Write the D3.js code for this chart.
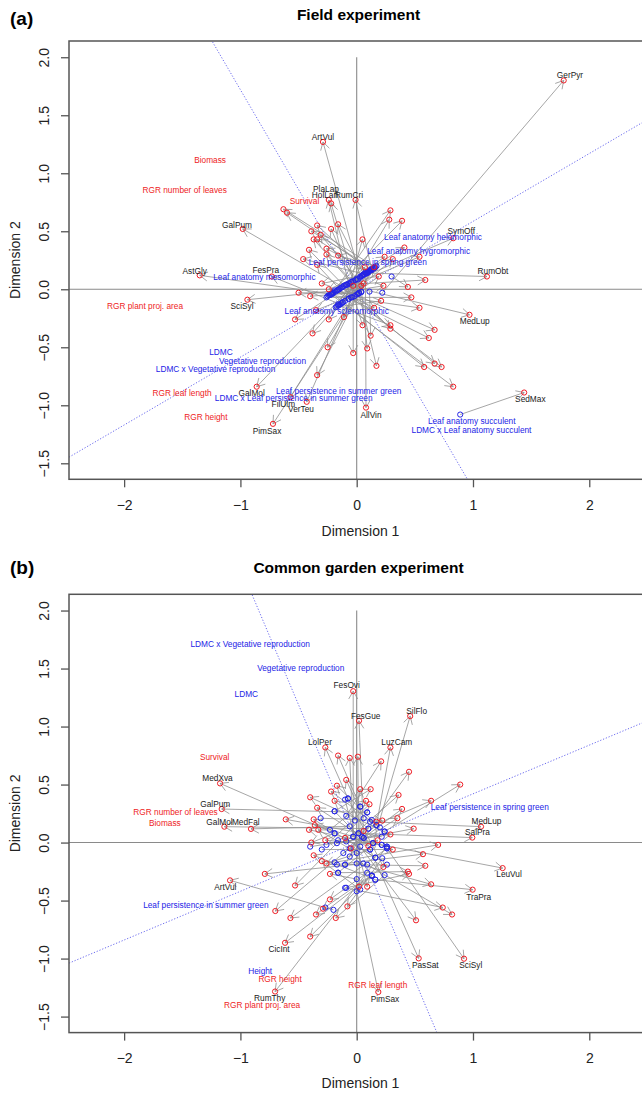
<!DOCTYPE html>
<html>
<head>
<meta charset="utf-8">
<script src="https://cdn.jsdelivr.net/npm/d3@7"></script>
<style>
  body { margin: 0; background: #fff; }
  svg { display: block; font-family: "Liberation Sans", Arial, Helvetica, sans-serif; }
</style>
</head>
<body>
<svg id="chart" width="642" height="1093"></svg>
<script>
// axis settings shared by both panels
const xDomain = [-2.474, 2.474];
const yDomain = [-1.638, 2.14];
const xTicks = [-2, -1, 0, 1, 2];
const yTicks = [-1.5, -1, -0.5, 0, 0.5, 1, 1.5, 2];

// (a) field experiment: [species x, species y, trait-space x, trait-space y]
const fieldPairs = [
  [1.78, 1.80, 0.22, -0.03], [-0.29, 1.27, 0.03, 0.11], [-0.24, 0.77, -0.07, 0.05],
  [-0.22, 0.74, 0.01, -0.04], [-0.01, 0.77, 0.13, 0.17], [-0.98, 0.52, -0.12, 0.02],
  [-1.35, 0.12, -0.22, -0.04], [-0.73, 0.11, -0.14, -0.13], [-0.94, -0.09, -0.17, -0.01],
  [0.83, 0.44, -0.045, 0.065], [1.12, 0.11, 0.08, 0.14], [0.97, -0.22, -0.095, 0.035],
  [1.44, -0.89, 0.89, -1.08], [0.08, -1.02, 0.075, 0.145], [-0.86, -0.84, 0.055, 0.125],
  [-0.57, -0.93, 0.105, 0.155], [-0.43, -0.97, -0.04, -0.07], [-0.72, -1.16, 0.155, 0.185],
  [-0.63, 0.69, 0.16, 0.19], [-0.60, 0.66, 0.12, 0.17], [0.29, 0.68, -0.20, -0.03],
  [0.28, 0.60, -0.16, -0.13], [0.39, 0.59, -0.25, -0.06], [-0.34, 0.55, 0.10, 0.15],
  [-0.22, 0.52, 0.02, -0.03], [-0.16, 0.56, 0.06, 0.13], [-0.39, 0.50, 0.14, 0.18],
  [-0.31, 0.47, 0.00, 0.09], [-0.37, 0.43, 0.04, -0.02], [-0.34, 0.43, 0.09, 0.14],
  [-0.41, 0.34, -0.02, -0.06], [-0.26, 0.35, 0.11, 0.16], [-0.26, 0.30, -0.05, 0.06],
  [-0.46, 0.26, 0.07, 0.13], [-0.34, 0.21, -0.07, -0.08], [-0.16, 0.29, 0.17, 0.20],
  [0.05, 0.43, -0.10, -0.10], [0.41, 0.36, -0.19, -0.01], [0.24, 0.28, -0.15, 0.00],
  [0.31, 0.26, -0.12, -0.11], [0.54, 0.28, -0.24, -0.05], [0.59, 0.08, -0.09, 0.04],
  [0.19, 0.11, -0.17, -0.15], [0.23, 0.03, -0.21, -0.04], [0.15, 0.19, -0.13, -0.12],
  [0.07, 0.19, -0.11, 0.03], [-0.30, 0.05, 0.05, 0.12], [0.47, -0.07, -0.26, -0.07],
  [0.54, -0.16, -0.23, -0.05], [0.67, -0.35, -0.14, 0.01], [0.62, -0.42, -0.18, -0.02],
  [0.29, -0.31, -0.16, -0.14], [0.29, -0.34, -0.08, 0.04], [0.21, -0.10, -0.18, -0.155],
  [0.05, -0.31, -0.06, 0.05], [0.09, -0.51, 0.03, 0.10], [-0.03, -0.55, -0.03, 0.07],
  [0.17, -0.66, -0.01, 0.08], [0.58, -0.67, -0.21, -0.035], [0.67, -0.64, -0.13, 0.015],
  [0.73, -0.67, -0.05, -0.07], [0.83, -0.84, -0.22, -0.045], [-0.25, -0.50, 0.13, 0.165],
  [0.15, -0.16, -0.16, -0.005], [-0.40, -0.06, 0.04, -0.025], [-0.50, -0.03, 0.02, -0.035],
  [-0.53, -0.26, 0.15, 0.18], [-0.35, -0.18, 0.00, -0.045], [-0.38, -0.38, 0.08, 0.135],
  [-0.34, -0.74, 0.12, 0.165], [-0.24, -0.26, 0.01, 0.085], [-0.11, -0.24, 0.045, 0.115],
  [-0.24, 0.00, 0.10, 0.145], [-0.03, 0.03, -0.12, -0.115], [0.04, 0.03, -0.15, -0.135],
  [0.06, 0.05, -0.07, -0.085], [0.44, 0.02, 0.30, 0.11], [0.12, -0.40, 0.11, -0.02]
];
const fieldSpecies = [
  ["GerPyr", 1.834, 1.847], ["ArtVul", -0.29, 1.313], ["PlaLap", -0.264, 0.862],
  ["HolLan", -0.273, 0.809], ["RumCri", -0.066, 0.813], ["GalPum", -1.029, 0.554],
  ["AstGly", -1.393, 0.160], ["FesPra", -0.782, 0.166], ["SciSyl", -0.986, -0.144],
  ["SymOff", 0.899, 0.503], ["RumObt", 1.172, 0.158], ["MedLup", 1.015, -0.273],
  ["SedMax", 1.493, -0.946], ["AllVin", 0.123, -1.081], ["GalMol", -0.903, -0.891],
  ["FilUlm", -0.631, -0.989], ["VerTeu", -0.479, -1.029], ["PimSax", -0.771, -1.219]
];
const fieldResponses = [
  ["Biomass", -1.261, 1.115], ["RGR number of leaves", -1.479, 0.856],
  ["Survival", -0.449, 0.761], ["RGR plant proj. area", -1.820, -0.144],
  ["RGR leaf length", -1.502, -0.891], ["RGR height", -1.297, -1.098]
];
const fieldTraits = [
  ["Leaf anatomy helomorphic", 0.656, 0.448], ["Leaf anatomy hygromorphic", 0.533, 0.330],
  ["Leaf persistence in spring green", 0.095, 0.238], ["Leaf anatomy mesomorphic", -0.794, 0.109],
  ["Leaf anatomy scleromorphic", -0.172, -0.184], ["LDMC", -1.167, -0.543],
  ["Vegetative reproduction", -0.810, -0.618], ["LDMC x Vegetative reproduction", -1.214, -0.687],
  ["Leaf persistence in summer green", -0.155, -0.877],
  ["LDMC x Leaf persistence in summer green", -0.542, -0.940],
  ["Leaf anatomy succulent", 0.989, -1.138], ["LDMC x Leaf anatomy succulent", 0.987, -1.213]
];
const fieldRotation = [0.585, -1.72];

// (b) common garden experiment
const gardenPairs = [
  [-0.03, 1.305, -0.03, 0.05], [0.02, 1.05, 0.06, 0.04], [0.46, 1.09, 0.14, -0.005],
  [0.29, 0.82, 0.17, 0.15], [-0.27, 0.82, -0.075, 0.38], [-1.175, 0.51, -0.19, 0.08],
  [-1.161, 0.289, 0.09, 0.26], [-1.138, 0.137, 0.10, 0.12], [-0.909, 0.118, -0.06, 0.14],
  [-1.089, -0.326, -0.20, -0.58], [-0.616, -0.864, 0.13, -0.285], [-0.702, -1.284, 0.26, -0.035],
  [1.069, 0.137, 0.115, 0.18], [0.994, 0.043, 0.015, 0.08], [1.255, -0.22, 0.215, -0.02],
  [0.997, -0.406, 0.16, -0.32], [0.533, -0.998, 0.115, -0.06], [0.923, -1.001, 0.26, -0.05],
  [0.186, -1.288, 0.0, -0.42],
  [-0.16, 0.75, 0.03, 0.31], [-0.06, 0.73, -0.03, 0.05], [0.01, 0.74, 0.015, 0.08],
  [0.21, 0.70, -0.09, 0.23], [0.45, 0.61, 0.045, 0.05], [-0.09, 0.54, 0.06, 0.21],
  [-0.17, 0.49, 0.13, 0.195], [-0.22, 0.44, 0.20, 0.13], [0.03, 0.46, -0.015, 0.19],
  [0.12, 0.46, -0.19, 0.27], [0.36, 0.41, -0.09, 0.01], [0.64, 0.36, -0.16, 0.02],
  [-0.40, 0.39, 0.24, 0.095], [-0.19, 0.36, 0.10, 0.12], [-0.34, 0.30, 0.06, 0.04],
  [0.08, 0.36, -0.23, 0.11], [0.11, 0.33, -0.26, -0.02], [0.39, 0.29, -0.06, -0.05],
  [0.35, 0.21, -0.115, -0.09], [0.49, 0.12, -0.17, -0.005], [-0.61, 0.20, 0.215, 0.05],
  [-0.37, 0.20, 0.16, -0.13], [-0.36, 0.15, 0.26, -0.035], [-0.41, 0.11, 0.14, -0.005],
  [-0.33, 0.11, 0.0, -0.09], [-0.27, 0.02, 0.215, -0.02], [0.22, 0.19, -0.31, 0.21],
  [0.29, 0.07, -0.40, -0.035], [0.31, -0.06, -0.30, -0.06], [0.70, -0.02, -0.19, -0.17],
  [0.57, -0.10, -0.17, -0.19], [0.17, 0.18, -0.06, -0.12], [0.89, 0.50, 0.24, 0.095],
  [0.59, -0.20, -0.10, -0.19], [0.44, -0.25, -0.16, -0.26], [0.45, -0.27, -0.09, -0.39],
  [0.64, -0.36, 0.0, -0.18], [0.74, -0.56, -0.10, -0.39], [0.82, -0.62, 0.09, -0.19],
  [0.51, -0.67, 0.03, -0.035], [0.23, -0.21, -0.075, 0.38], [0.09, -0.38, -0.10, 0.37],
  [0.02, -0.38, 0.03, 0.31], [-0.08, -0.55, 0.22, -0.135], [-0.18, -0.65, 0.24, -0.28],
  [-0.23, -0.49, 0.09, -0.26], [-0.29, -0.57, 0.26, -0.19], [-0.79, -0.27, 0.055, -0.18],
  [-0.37, -0.11, 0.16, -0.32], [-0.30, -0.16, 0.03, -0.405], [-0.26, -0.18, 0.115, -0.06],
  [-0.23, -0.27, 0.0, -0.315], [-0.53, -0.37, 0.09, 0.26], [-0.70, -0.59, 0.17, 0.15],
  [-0.57, -0.65, 0.26, -0.05], [-0.35, -0.62, -0.27, -0.56], [-0.40, -0.81, 0.13, -0.285],
  [-0.39, 0.00, -0.19, 0.08], [-0.10, 0.04, 0.16, -0.13], [0.10, -0.03, -0.19, 0.27],
  [0.06, 0.10, -0.10, -0.19], [-0.05, -0.05, 0.13, -0.285], [0.18, 0.02, -0.16, -0.26]
];
const gardenSpecies = [
  ["FesOvi", -0.086, 1.354], ["FesGue", 0.077, 1.088], ["SilFlo", 0.516, 1.133],
  ["LuzCam", 0.345, 0.867], ["LolPer", -0.316, 0.867], ["MedXva", -1.197, 0.553],
  ["GalPum", -1.216, 0.332], ["GalMol", -1.180, 0.178], ["MedFal", -0.954, 0.178],
  ["ArtVul", -1.130, -0.386], ["CicInt", -0.668, -0.921], ["RumThy", -0.748, -1.342],
  ["MedLup", 1.116, 0.186], ["SalPra", 1.039, 0.089], ["LeuVul", 1.310, -0.271],
  ["TraPra", 1.049, -0.469], ["PasSat", 0.590, -1.056], ["SciSyl", 0.981, -1.056],
  ["PimSax", 0.243, -1.350]
];
const gardenResponses = [
  ["Survival", -1.221, 0.733], ["RGR number of leaves", -1.558, 0.264],
  ["Biomass", -1.650, 0.172], ["RGR height", -0.659, -1.179],
  ["RGR plant proj. area", -0.813, -1.402], ["RGR leaf length", 0.181, -1.230]
];
const gardenTraits = [
  ["LDMC x Vegetative reproduction", -0.916, 1.712], ["Vegetative reproduction", -0.481, 1.506],
  ["LDMC", -0.949, 1.276], ["Leaf persistence in spring green", 1.144, 0.309],
  ["Leaf persistence in summer green", -1.297, -0.541], ["Height", -0.830, -1.107]
];
const gardenRotation = [0.42, -2.375];

const svg = d3.select("#chart");
svg.append("rect").attr("width", 642).attr("height", 1093).attr("fill", "#fff");

const left = 69, plotW = 575.4, plotH = 438.3;
const red = "#ee1c24", blue = "#2323e6";

function drawPanel(opts) {
  const top = opts.top;
  const x = d3.scaleLinear().domain(xDomain).range([left, left + plotW]);
  const y = d3.scaleLinear().domain(yDomain).range([top + plotH, top]);
  const g = svg.append("g");

  g.append("text").attr("x", 10).attr("y", opts.tagY)
    .style("font-size", "19px").style("font-weight", "bold").text(opts.tag);
  g.append("text").attr("x", 358.5).attr("y", opts.titleY).attr("text-anchor", "middle")
    .style("font-size", "15.5px").style("font-weight", "bold").text(opts.title);

  const clipId = "clip" + opts.tag.replace(/\W/g, "");
  g.append("clipPath").attr("id", clipId).append("rect")
    .attr("x", left).attr("y", top).attr("width", plotW).attr("height", plotH);
  const plot = g.append("g").attr("clip-path", `url(#${clipId})`);

  // rotation axes (dotted blue)
  plot.selectAll(".rot").data(opts.rotation).enter().append("line")
    .attr("x1", x(xDomain[0])).attr("y1", m => y(m * xDomain[0]))
    .attr("x2", x(xDomain[1])).attr("y2", m => y(m * xDomain[1]))
    .attr("stroke", blue).attr("stroke-width", 0.9).attr("stroke-dasharray", "1.2,1.8")
    .attr("opacity", 0.75);

  // zero lines
  plot.append("line").attr("x1", x(xDomain[0])).attr("x2", x(xDomain[1]))
    .attr("y1", y(0)).attr("y2", y(0)).attr("stroke", "#8a8a8a").attr("stroke-width", 1.1);
  plot.append("line").attr("x1", x(0)).attr("x2", x(0))
    .attr("y1", y(2)).attr("y2", y(yDomain[0])).attr("stroke", "#8a8a8a").attr("stroke-width", 1.1);

  // arrows from trait-space points to species points
  const headLen = 9, headAng = Math.PI / 6;
  plot.selectAll(".arrow").data(opts.pairs).enter().append("path")
    .attr("d", d => {
      const x0 = x(d[2]), y0 = y(d[3]), x1 = x(d[0]), y1 = y(d[1]);
      const a = Math.atan2(y1 - y0, x1 - x0);
      const h1 = [x1 - headLen * Math.cos(a - headAng), y1 - headLen * Math.sin(a - headAng)];
      const h2 = [x1 - headLen * Math.cos(a + headAng), y1 - headLen * Math.sin(a + headAng)];
      return `M${x0},${y0}L${x1},${y1}M${h1}L${x1},${y1}L${h2}`;
    })
    .attr("fill", "none").attr("stroke", "#8f8f8f").attr("stroke-width", 0.8);

  plot.selectAll(".bpt").data(opts.pairs).enter().append("circle")
    .attr("cx", d => x(d[2])).attr("cy", d => y(d[3])).attr("r", 2.6)
    .attr("fill", "none").attr("stroke", blue).attr("stroke-width", 1);
  plot.selectAll(".rpt").data(opts.pairs).enter().append("circle")
    .attr("cx", d => x(d[0])).attr("cy", d => y(d[1])).attr("r", 2.6)
    .attr("fill", "none").attr("stroke", red).attr("stroke-width", 1);

  const addLabels = (rows, color) => {
    plot.selectAll(null).data(rows).enter().append("text")
      .attr("x", d => x(d[1])).attr("y", d => y(d[2])).attr("dy", "0.35em")
      .attr("text-anchor", "middle").attr("fill", color)
      .style("font-size", "8.3px").text(d => d[0]);
  };
  addLabels(opts.species, "#1a1a1a");
  addLabels(opts.responses, red);
  addLabels(opts.traits, blue);

  // frame
  g.append("rect").attr("x", left).attr("y", top).attr("width", plotW).attr("height", plotH)
    .attr("fill", "none").attr("stroke", "#555").attr("stroke-width", 1.5);

  // axes
  const xAxis = g.append("g").attr("transform", `translate(0,${top + plotH})`)
    .call(d3.axisBottom(x).tickValues(xTicks).tickSize(8).tickFormat(d3.format("d")));
  xAxis.select(".domain").remove();
  xAxis.selectAll("line").attr("stroke", "#555").attr("stroke-width", 1.3);
  xAxis.selectAll("text").attr("y", 26).attr("dy", "0.35em")
    .style("font-size", "14px").style("font-family", "Liberation Sans, Arial, sans-serif")
    .attr("fill", "#222");

  const yAxis = g.append("g").attr("transform", `translate(${left},0)`)
    .call(d3.axisLeft(y).tickValues(yTicks).tickSize(8).tickFormat(d3.format(".1f")));
  yAxis.select(".domain").remove();
  yAxis.selectAll("line").attr("stroke", "#555").attr("stroke-width", 1.3);
  yAxis.selectAll("text").attr("x", 0).attr("y", 0).attr("dy", "0.35em")
    .attr("transform", "translate(-25,0) rotate(-90)").attr("text-anchor", "middle")
    .style("font-size", "14px").style("font-family", "Liberation Sans, Arial, sans-serif")
    .attr("fill", "#222");

  g.append("text").attr("x", 360.5).attr("y", opts.xLabelY).attr("text-anchor", "middle")
    .style("font-size", "14px").attr("fill", "#222").text("Dimension 1");
  g.append("text").attr("transform", `translate(15.5,${top + plotH / 2}) rotate(-90)`)
    .attr("dy", "0.35em").attr("text-anchor", "middle")
    .style("font-size", "14px").attr("fill", "#222").text("Dimension 2");
}

drawPanel({
  top: 41, tag: "(a)", tagY: 25, title: "Field experiment", titleY: 20, xLabelY: 536,
  pairs: fieldPairs, species: fieldSpecies, responses: fieldResponses,
  traits: fieldTraits, rotation: fieldRotation
});
drawPanel({
  top: 594.3, tag: "(b)", tagY: 574, title: "Common garden experiment", titleY: 573, xLabelY: 1088,
  pairs: gardenPairs, species: gardenSpecies, responses: gardenResponses,
  traits: gardenTraits, rotation: gardenRotation
});
</script>
</body>
</html>
